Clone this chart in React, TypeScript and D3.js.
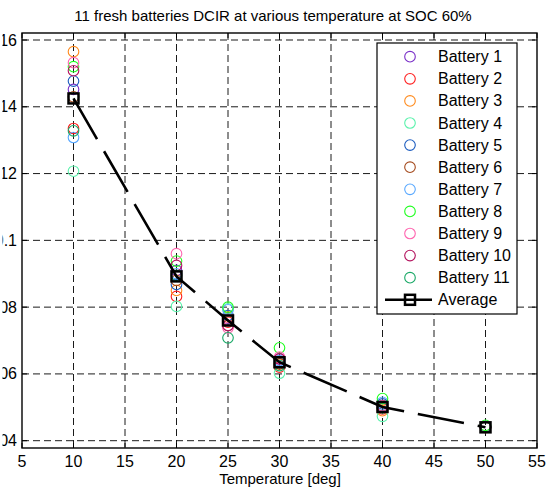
import React from 'react';
import * as d3 from 'd3';

// temperatures [deg]
const temps = [10, 20, 25, 30, 40, 50];

// DCIR per battery, one value per temperature
const battery1 = [0.1452, 0.091, 0.0765, 0.0645, 0.0505, 0.0442];
const battery2 = [0.1335, 0.0832, 0.0755, 0.062, 0.0495, 0.044];
const battery3 = [0.1565, 0.085, 0.077, 0.063, 0.049, 0.0441];
const battery4 = [0.1207, 0.0802, 0.0795, 0.0602, 0.0473, 0.0443];
const battery5 = [0.1477, 0.0868, 0.0775, 0.0635, 0.051, 0.0441];
const battery6 = [0.143, 0.088, 0.076, 0.063, 0.05, 0.044];
const battery7 = [0.1308, 0.09, 0.0792, 0.064, 0.0515, 0.0442];
const battery8 = [0.152, 0.0938, 0.08, 0.0678, 0.0526, 0.0446];
const battery9 = [0.1532, 0.096, 0.0738, 0.065, 0.0505, 0.0442];
const battery10 = [0.1508, 0.0925, 0.0745, 0.0645, 0.05, 0.044];
const battery11 = [0.1328, 0.0895, 0.0708, 0.0625, 0.0498, 0.0441];
const average = [0.1425, 0.0892, 0.076, 0.0635, 0.0501, 0.044];

const batteries = [battery1, battery2, battery3, battery4, battery5, battery6,
  battery7, battery8, battery9, battery10, battery11];
const batteryNames = ['Battery 1', 'Battery 2', 'Battery 3', 'Battery 4', 'Battery 5',
  'Battery 6', 'Battery 7', 'Battery 8', 'Battery 9', 'Battery 10', 'Battery 11'];
const batteryColors = ['#7a2fc8', '#ff1f1f', '#ff8a1c', '#5cf2ad', '#1c5cbf', '#a4491c',
  '#58a8ff', '#1fff1f', '#ff66b0', '#b3135e', '#19a866'];

const xTicks = [5, 10, 15, 20, 25, 30, 35, 40, 45, 50, 55];
const yTicks = [0.04, 0.06, 0.08, 0.1, 0.12, 0.14, 0.16];
const yTickLabels = ['0.04', '0.06', '0.08', '0.1', '0.12', '0.14', '0.16'];

const W = 546;
const H = 490;
const left = 22, right = 537, top = 33, bottom = 448;
const font = '"Liberation Sans", Arial, sans-serif';

export default function App() {
  const x = d3.scaleLinear().domain([5, 55]).range([left, right]);
  const y = d3.scaleLinear().domain([0.03781, 0.1621]).range([bottom, top]);

  const avgLine = d3.line<number>()
    .x((_, i) => x(temps[i]))
    .y(d => y(d));

  const legX = 377, legY = 43, legW = 140, legH = 271;
  const rowY = (i: number) => 56.7 + i * 22.1;

  return (
    <svg width={W} height={H} style={{ position: 'absolute', left: 0, top: 0, background: '#fff' }}
      fontFamily={font}>
      <defs>
        <clipPath id="ylab">
          <rect x={2.5} y={0} width={30} height={H} />
        </clipPath>
      </defs>
      <rect x={0} y={0} width={W} height={H} fill="#fff" />
      <text x={273} y={21} fontSize={15} textAnchor="middle" fill="#000">
        11 fresh batteries DCIR at various temperature at SOC 60%
      </text>

      {/* grid */}
      {xTicks.filter(t => t > 5 && t < 55).map(t => (
        <line key={'gx' + t} x1={x(t)} x2={x(t)} y1={top} y2={bottom}
          stroke="#000" strokeWidth={0.9} strokeDasharray="7,4" />
      ))}
      {yTicks.map(t => (
        <line key={'gy' + t} x1={left} x2={right} y1={y(t)} y2={y(t)}
          stroke="#000" strokeWidth={0.9} strokeDasharray="7,4" />
      ))}

      {/* ticks */}
      {xTicks.map(t => (
        <g key={'tx' + t}>
          <line x1={x(t)} x2={x(t)} y1={bottom} y2={bottom - 5} stroke="#000" />
          <line x1={x(t)} x2={x(t)} y1={top} y2={top + 5} stroke="#000" />
          <text x={x(t)} y={467} fontSize={16} textAnchor="middle">{t}</text>
        </g>
      ))}
      {yTicks.map((t, i) => (
        <g key={'ty' + t}>
          <line x1={left} x2={left + 5} y1={y(t)} y2={y(t)} stroke="#000" />
          <line x1={right} x2={right - 5} y1={y(t)} y2={y(t)} stroke="#000" />
          <text x={17} y={y(t) + 5.5} fontSize={16} textAnchor="end"
            clipPath="url(#ylab)">{yTickLabels[i]}</text>
        </g>
      ))}

      <text x={280} y={484} fontSize={15} textAnchor="middle">Temperature [deg]</text>

      {/* battery markers */}
      {batteries.map((vals, b) => (
        <g key={'b' + b}>
          {vals.map((v, i) => (
            <circle key={i} cx={x(temps[i])} cy={y(v)} r={5.3} fill="none"
              stroke={batteryColors[b]} strokeWidth={1.1} />
          ))}
        </g>
      ))}

      {/* average */}
      <path d={avgLine(average) || ''} fill="none" stroke="#000" strokeWidth={2.6}
        strokeDasharray="47,14" />
      {average.map((v, i) => (
        <rect key={'a' + i} x={x(temps[i]) - 5} y={y(v) - 5} width={10} height={10}
          fill="none" stroke="#000" strokeWidth={2.5} />
      ))}

      {/* frame */}
      <rect x={left} y={top} width={right - left} height={bottom - top} fill="none"
        stroke="#000" strokeWidth={1.4} />

      {/* legend */}
      <rect x={legX} y={legY} width={legW} height={legH} fill="#fff" stroke="#000" strokeWidth={1.2} />
      {batteryNames.map((n, i) => (
        <g key={'l' + i}>
          <circle cx={410} cy={rowY(i)} r={5.3} fill="none" stroke={batteryColors[i]} strokeWidth={1.1} />
          <text x={438} y={rowY(i) + 5.5} fontSize={16}>{n}</text>
        </g>
      ))}
      <line x1={385} x2={432} y1={rowY(11)} y2={rowY(11)} stroke="#000" strokeWidth={2.6} />
      <rect x={405} y={rowY(11) - 5} width={10} height={10} fill="none" stroke="#000" strokeWidth={2.5} />
      <text x={438} y={rowY(11) + 5.5} fontSize={16}>Average</text>
    </svg>
  );
}
